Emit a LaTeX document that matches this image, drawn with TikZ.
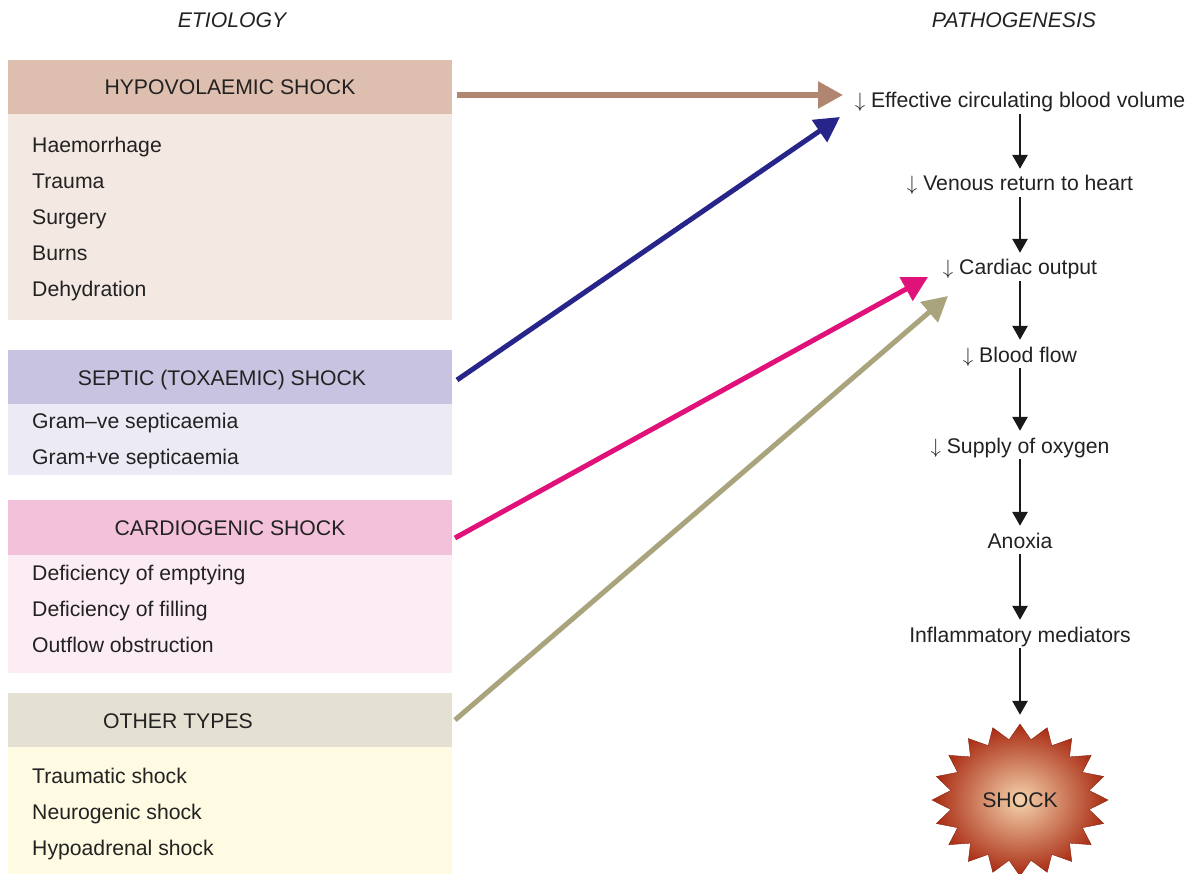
\documentclass[tikz,border=0pt]{standalone}
\usepackage{fontspec}
\setmainfont{Liberation Sans}
\usetikzlibrary{arrows.meta,shapes.geometric}
\definecolor{txt}{HTML}{222222}
\definecolor{hypoH}{HTML}{DEBEAF}
\definecolor{hypoB}{HTML}{F3E8E2}
\definecolor{sepH}{HTML}{C7C3E1}
\definecolor{sepB}{HTML}{ECEAF5}
\definecolor{carH}{HTML}{F3C1DA}
\definecolor{carB}{HTML}{FCECF4}
\definecolor{othH}{HTML}{E4E0D2}
\definecolor{othB}{HTML}{FEFBE2}
\definecolor{brownA}{HTML}{B08670}
\definecolor{blueA}{HTML}{28258A}
\definecolor{pinkA}{HTML}{E0127A}
\definecolor{khakiA}{HTML}{A9A47C}
\definecolor{starIn}{HTML}{F5D3AC}
\definecolor{starOut}{HTML}{A82A12}
\newcommand{\dn}{$\downarrow$\ }
\begin{document}
\begin{tikzpicture}[x=1pt,y=-1pt,
  every node/.style={text=txt,font=\fontsize{21.2}{25}\selectfont,inner sep=0pt},
  box/.style={draw=none,anchor=north west,minimum width=444pt,rectangle},
  lbl/.style={anchor=base,text height=15pt,text depth=5pt},
  item/.style={anchor=base west},
  blk/.style={draw=black!90,line width=2.8pt,-{Triangle[length=14pt,width=15pt]},shorten <=1pt,shorten >=7pt},
  col/.style={line width=5.5pt,-{Triangle[length=25pt,width=26pt]}}
]
\useasboundingbox (0,0) rectangle (1190,874);
\fill[white] (0,0) rectangle (1190,874);

% headings
\node[anchor=base,font=\fontsize{21.2}{25}\selectfont\itshape] (etio) at (232,28) {ETIOLOGY};
\node[anchor=base,font=\fontsize{21.2}{25}\selectfont\itshape] (patho) at (1014,28) {PATHOGENESIS};

% left boxes
\node[box,fill=hypoH,minimum height=54pt] (hypoH) at (8,60) {};
\node[box,fill=hypoB,minimum height=206pt] (hypoB) at (8,114) {};
\node[box,fill=sepH,minimum height=54pt] (sepH) at (8,350) {};
\node[box,fill=sepB,minimum height=71pt] (sepB) at (8,404) {};
\node[box,fill=carH,minimum height=55pt] (carH) at (8,500) {};
\node[box,fill=carB,minimum height=118pt] (carB) at (8,555) {};
\node[box,fill=othH,minimum height=54pt] (othH) at (8,693) {};
\node[box,fill=othB,minimum height=127pt] (othB) at (8,747) {};

\node[anchor=base] (hypoT) at (230,95) {HYPOVOLAEMIC SHOCK};
\node[item] (h1) at (32,153) {Haemorrhage};
\node[item] (h2) at (32,189) {Trauma};
\node[item] (h3) at (32,225) {Surgery};
\node[item] (h4) at (32,261) {Burns};
\node[item] (h5) at (32,297) {Dehydration};

\node[anchor=base] (sepT) at (222,385) {SEPTIC (TOXAEMIC) SHOCK};
\node[item] (s1) at (32,428) {Gram--ve septicaemia};
\node[item] (s2) at (32,464) {Gram+ve septicaemia};

\node[anchor=base] (carT) at (230,535) {CARDIOGENIC SHOCK};
\node[item] (c1) at (32,580) {Deficiency of emptying};
\node[item] (c2) at (32,616) {Deficiency of filling};
\node[item] (c3) at (32,652) {Outflow obstruction};

\node[anchor=base] (othT) at (178,728) {OTHER TYPES};
\node[item] (o1) at (32,783) {Traumatic shock};
\node[item] (o2) at (32,819) {Neurogenic shock};
\node[item] (o3) at (32,855) {Hypoadrenal shock};

% pathogenesis chain
\node[lbl] (p1) at (1020,108) {\dn Effective circulating blood volume};
\node[lbl] (p2) at (1020,191) {\dn Venous return to heart};
\node[lbl] (p3) at (1020,275) {\dn Cardiac output};
\node[lbl] (p4) at (1020,362) {\dn Blood flow};
\node[lbl] (p5) at (1020,453) {\dn Supply of oxygen};
\node[lbl] (p6) at (1020,548) {Anoxia};
\node[lbl] (p7) at (1020,642) {Inflammatory mediators};

% star
\shade[inner color=starIn,outer color=starOut,draw=starOut!80!black,line width=0.4pt]
  plot[samples at={0,...,39},variable=\k]
  ({1020+(88-18*mod(\k,2))*cos(90+9*\k)},{800-(76-15*mod(\k,2))*sin(90+9*\k)}) -- cycle;
\node[ellipse,minimum width=176pt,minimum height=152pt] (shock) at (1020,800) {};
\node[anchor=center] (shockT) at (1020,800) {SHOCK};

\draw[blk] (p1) -- (p2);
\draw[blk] (p2) -- (p3);
\draw[blk] (p3) -- (p4);
\draw[blk] (p4) -- (p5);
\draw[blk] (p5) -- (p6);
\draw[blk] (p6) -- (p7);
\draw[blk,shorten >=9pt] (p7) -- (shock);

% coloured connectors
\coordinate (aH) at (457,95);
\coordinate (eH) at (843,95);
\coordinate (aS) at (457,380);
\coordinate (eS) at (840,117);
\coordinate (aC) at (455,538);
\coordinate (eC) at (928,277);
\coordinate (aO) at (455,720);
\coordinate (eO) at (948,296);
\draw[col,brownA] (aH) -- (eH);
\draw[col,blueA,line width=5pt] (aS) -- (eS);
\draw[col,pinkA,line width=5pt] (aC) -- (eC);
\draw[col,khakiA,line width=5pt] (aO) -- (eO);
\end{tikzpicture}
\end{document}
